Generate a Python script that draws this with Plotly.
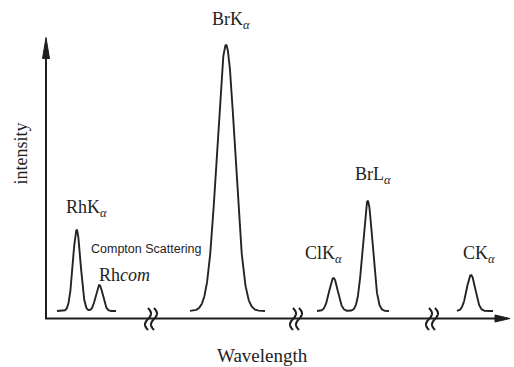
import numpy as np
import plotly.graph_objects as go

# Schematic X-ray fluorescence spectrum: peak parameters (wavelength units, intensity units)
peak_names = ["RhKα", "Rhcom", "BrKα", "ClKα", "BrLα", "CKα"]
peak_centers = [76.7, 99.3, 226.0, 333.5, 367.7, 471.0]
peak_heights = [81, 26, 266, 33, 110, 36]
peak_widths = [3.8, 3.5, 9.0, 4.3, 4.9, 4.3]

# Each drawn stretch of the spectrum between axis breaks
segment_starts = [57, 190, 317, 457]
segment_ends = [116, 265, 389, 493]
baseline_level = 7.5

# Positions of the broken-axis marks on the wavelength axis
axis_breaks = [151, 296, 432]

INK = "#1e1e1e"
SERIF = "Liberation Serif, Times New Roman, serif"

fig = go.Figure()

for x0, x1 in zip(segment_starts, segment_ends):
    xs = np.linspace(x0, x1, 400)
    ys = np.full_like(xs, baseline_level)
    for c, h, w in zip(peak_centers, peak_heights, peak_widths):
        if x0 <= c <= x1:
            ys = ys + h * np.exp(-0.5 * ((xs - c) / w) ** 2)
    fig.add_trace(go.Scatter(x=xs, y=ys, mode="lines",
                             line=dict(color="#242424", width=1.9),
                             hoverinfo="skip", showlegend=False))

shapes = []
# axes with arrowheads
shapes.append(dict(type="line", x0=46, y0=0, x1=46, y1=264,
                   line=dict(color=INK, width=2)))
shapes.append(dict(type="path", path="M 42.5 260 L 46 281 L 49.5 260 Z",
                   fillcolor=INK, line=dict(color=INK, width=1)))
shapes.append(dict(type="line", x0=45, y0=0, x1=498, y1=0,
                   line=dict(color=INK, width=2)))
shapes.append(dict(type="path", path="M 495 3.5 L 510 0 L 495 -3.5 Z",
                   fillcolor=INK, line=dict(color=INK, width=1)))

# double S-shaped break marks across the wavelength axis
for bx in axis_breaks:
    for off in (-3.0, 3.0):
        t = np.linspace(0, 1, 40)
        px = bx + off + 3.0 * np.sin(2 * np.pi * t)
        py = 10.5 - 22 * t
        d = "M " + " L ".join(f"{a:.2f} {b:.2f}" for a, b in zip(px, py))
        shapes.append(dict(type="path", path=d,
                           line=dict(color=INK, width=2.1)))

alpha = "<sub><i>α</i></sub>"
labels = [
    ("BrK" + alpha, 210, 298),
    ("RhK" + alpha, 64, 110),
    ("ClK" + alpha, 303, 64),
    ("BrL" + alpha, 353, 143),
    ("CK" + alpha, 461, 64),
    ("Rh<i>com</i>", 97, 44),
]
annotations = []
for txt, x, y in labels:
    annotations.append(dict(text=txt, x=x, y=y, xref="x", yref="y",
                            xanchor="left", yanchor="middle", showarrow=False,
                            font=dict(family=SERIF, size=18, color=INK)))

annotations.append(dict(text="Compton Scattering", x=89, y=70, xref="x", yref="y",
                        xanchor="left", yanchor="middle", showarrow=False,
                        font=dict(family="Liberation Sans, Arial, sans-serif",
                                  size=12.5, color=INK)))
annotations.append(dict(text="Wavelength", x=262, y=-37, xref="x", yref="y",
                        xanchor="center", yanchor="middle", showarrow=False,
                        font=dict(family=SERIF, size=19, color=INK)))
annotations.append(dict(text="intensity", x=20, y=165, xref="x", yref="y",
                        xanchor="center", yanchor="middle", showarrow=False,
                        textangle=-90,
                        font=dict(family=SERIF, size=18, color=INK)))

fig.update_layout(
    width=514, height=367,
    margin=dict(l=0, r=0, t=0, b=0),
    paper_bgcolor="white", plot_bgcolor="white",
    xaxis=dict(range=[0, 514], visible=False, fixedrange=True),
    yaxis=dict(range=[-48.5, 318.5], visible=False, fixedrange=True),
    shapes=shapes, annotations=annotations,
    showlegend=False,
)

fig.write_html("out.html")
